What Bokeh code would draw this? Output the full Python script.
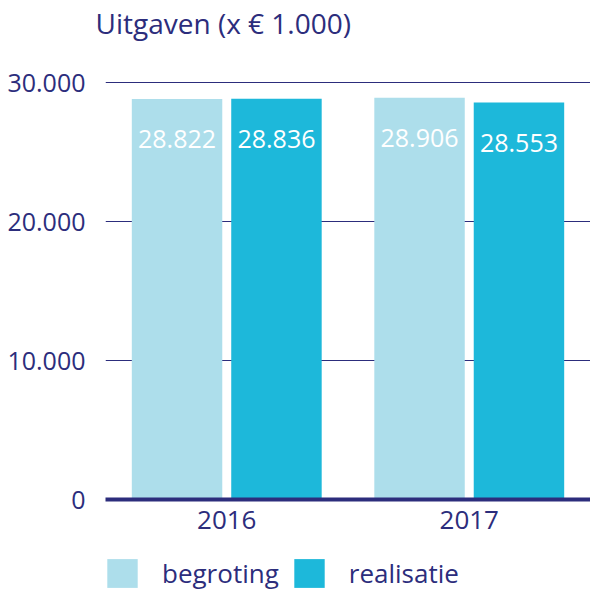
from bokeh.plotting import figure
from bokeh.models import ColumnDataSource, FactorRange, Range1d, FixedTicker, Legend, LegendItem, Label
from bokeh.transform import dodge
from bokeh.core.properties import value
from bokeh.embed import file_html
from bokeh.resources import INLINE

years = ["2016", "2017"]
begroting = [28822, 28906]
realisatie = [28836, 28553]
begroting_labels = ["28.822", "28.906"]
realisatie_labels = ["28.836", "28.553"]
y_ticks = [0, 10000, 20000, 30000]
y_tick_labels = ["0", "10.000", "20.000", "30.000"]
series_names = ["begroting", "realisatie"]
title_text = "Uitgaven (x € 1.000)"

NAVY = "#2c2d7c"
LIGHT = "#addeeb"
DARK = "#1db8da"
FONT = "Open Sans"


def strip(h):
    f = figure(width=590, height=h, x_range=Range1d(0, 1), y_range=Range1d(0, 1),
               output_backend="svg", toolbar_location=None,
               x_axis_location=None, y_axis_location=None,
               min_border_left=0, min_border_right=0, min_border_top=0, min_border_bottom=0)
    f.grid.visible = False
    f.outline_line_color = None
    f.border_fill_color = "white"
    f.background_fill_color = "white"
    return f


# title strip
tf = strip(54)
tf.add_layout(Label(x=95, y=32, x_units="screen", y_units="screen", text=title_text,
                    text_font=FONT, text_font_size="28px", text_color=NAVY,
                    text_align="left", text_baseline="alphabetic"))

src = ColumnDataSource(dict(year=years, beg=begroting, rea=realisatie,
                            beg_lab=begroting_labels, rea_lab=realisatie_labels))

p = figure(width=590, height=494, x_range=FactorRange(*years, range_padding=0),
           y_range=Range1d(0, 30576), output_backend="svg", toolbar_location=None,
           min_border_left=105, min_border_right=0, min_border_top=20, min_border_bottom=49)
p.outline_line_color = None
p.background_fill_color = "white"
p.border_fill_color = "white"

r1 = p.vbar(x=dodge("year", -0.205, range=p.x_range), top="beg", width=0.373,
            source=src, fill_color=LIGHT, line_color=None)
r2 = p.vbar(x=dodge("year", 0.205, range=p.x_range), top="rea", width=0.373,
            source=src, fill_color=DARK, line_color=None)

p.text(x=dodge("year", -0.205, range=p.x_range), y="beg", text="beg_lab", source=src,
       text_color="white", text_font=value(FONT), text_font_size="25px",
       text_align="center", text_baseline="alphabetic", y_offset=40)
p.text(x=dodge("year", 0.205, range=p.x_range), y="rea", text="rea_lab", source=src,
       text_color="white", text_font=value(FONT), text_font_size="25px",
       text_align="center", text_baseline="alphabetic", y_offset=40)

p.yaxis.ticker = FixedTicker(ticks=y_ticks)
p.yaxis.major_label_overrides = {t: l for t, l in zip(y_ticks, y_tick_labels)}
p.yaxis.axis_line_color = None
p.yaxis.major_tick_line_color = None
p.yaxis.minor_tick_line_color = None
p.yaxis.major_label_text_font = FONT
p.yaxis.major_label_text_font_size = "25px"
p.yaxis.major_label_text_color = NAVY
p.yaxis.major_label_standoff = 14

p.xaxis.axis_line_color = NAVY
p.xaxis.axis_line_width = 4
p.xaxis.major_tick_line_color = None
p.xaxis.minor_tick_line_color = None
p.xaxis.major_label_text_font = FONT
p.xaxis.major_label_text_font_size = "26px"
p.xaxis.major_label_text_color = NAVY
p.xaxis.major_label_standoff = 5

p.xgrid.grid_line_color = None
p.ygrid.ticker = FixedTicker(ticks=y_ticks)
p.ygrid.grid_line_color = NAVY
p.ygrid.grid_line_width = 1

# legend strip below the chart (proxy renderers lie outside the visible range)
lg = strip(43)
proxy = ColumnDataSource(dict(x=[-10], top=[0]))
l1 = lg.vbar(x="x", top="top", width=0.1, source=proxy, fill_color=LIGHT, line_color=None)
l2 = lg.vbar(x="x", top="top", width=0.1, source=proxy, fill_color=DARK, line_color=None)
legend = Legend(items=[LegendItem(label=series_names[0], renderers=[l1]),
                       LegendItem(label=series_names[1], renderers=[l2])],
                orientation="horizontal", location=(103, 0),
                glyph_width=38, glyph_height=36, label_standoff=21, spacing=11,
                label_text_font=FONT, label_text_font_size="26px", label_text_color=NAVY,
                label_height=36, padding=0, margin=0, border_line_color=None,
                background_fill_alpha=0)
lg.add_layout(legend, "center")

open("out.html", "w").write(file_html([tf, p, lg], INLINE))
